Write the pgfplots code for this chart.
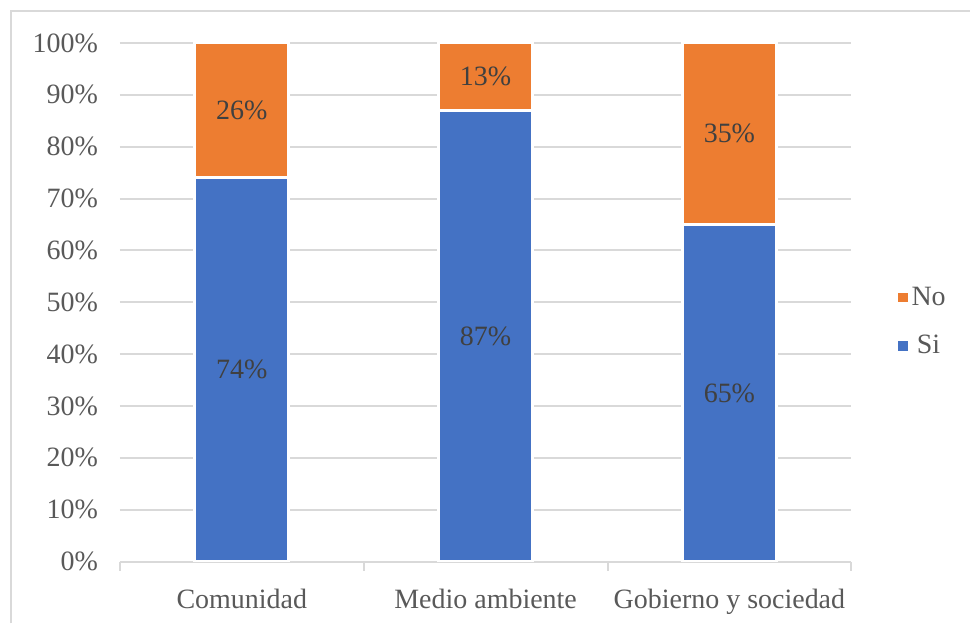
\documentclass[border=0pt]{standalone}
\usepackage{fontspec}
\setmainfont{Liberation Serif}
\usepackage{pgfplots}
\pgfplotsset{compat=1.18}
\definecolor{siblue}{HTML}{4472C4}
\definecolor{noorange}{HTML}{ED7D31}
\definecolor{gridgray}{HTML}{D9D9D9}
\definecolor{ticktext}{HTML}{595959}
\definecolor{labeltext}{HTML}{404040}
\tikzset{vlab/.style={text=labeltext, font=\fontsize{14}{16}\selectfont}}
\begin{document}
\begin{tikzpicture}[font=\fontsize{14}{16}\selectfont]
\path (-60pt,-31pt) rectangle (425.5pt,281pt);
\draw[gridgray, line width=0.8pt] (-54.5pt,-31pt) -- (-54.5pt,275.5pt) -- (425.5pt,275.5pt);
\begin{axis}[
  at={(0,0)}, anchor=south west,
  scale only axis, width=366pt, height=259.5pt,
  xmin=-0.5, xmax=2.5, ymin=0, ymax=100,
  ybar stacked, bar width=47pt,
  xtick={-0.5,0.5,1.5,2.5}, xticklabels={},
  extra x ticks={0,1,2},
  extra x tick labels={Comunidad,Medio ambiente,Gobierno y sociedad},
  extra x tick style={major tick length=0pt, tick label style={yshift=-10.5pt}},
  tick pos=left,
  tick align=outside, major tick length=4.5pt,
  x tick style={gridgray, line width=1pt},
  y tick style={draw=none},
  ytick={0,10,...,100},
  yticklabels={0\%,10\%,20\%,30\%,40\%,50\%,60\%,70\%,80\%,90\%,100\%},
  yticklabel style={xshift=-3pt},
  tick label style={text=ticktext, font=\fontsize{14}{16}\selectfont},
  ymajorgrids, grid style={gridgray, line width=1pt},
  axis line style={draw=none},
  reverse legend,
  legend style={draw=none, fill=none, at={(1.055,0.462)}, anchor=west,
     row sep=9.5pt, font=\fontsize{14}{16}\selectfont, text=ticktext},
  legend image code/.code={\fill[#1, draw=none] (0pt,-2.4pt) rectangle (4.8pt,2.4pt);},
]
\addplot[fill=siblue, draw=white, line width=1.5pt] coordinates {(0,74) (1,87) (2,65)};
\addplot[fill=noorange, draw=white, line width=1.5pt] coordinates {(0,26) (1,13) (2,35)};
\legend{Si,No}
\coordinate (s0) at (axis cs:0,37);
\coordinate (s1) at (axis cs:1,43.5);
\coordinate (s2) at (axis cs:2,32.5);
\coordinate (n0) at (axis cs:0,87);
\coordinate (n1) at (axis cs:1,93.5);
\coordinate (n2) at (axis cs:2,82.5);
\end{axis}
\node[vlab] at (s0) {74\%};
\node[vlab] at (s1) {87\%};
\node[vlab] at (s2) {65\%};
\node[vlab] at (n0) {26\%};
\node[vlab] at (n1) {13\%};
\node[vlab] at (n2) {35\%};
\end{tikzpicture}
\end{document}
